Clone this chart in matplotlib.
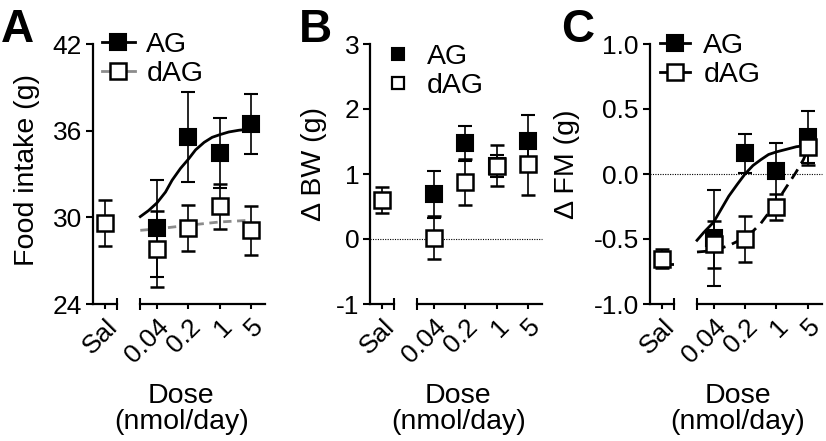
import numpy as np
import matplotlib
matplotlib.use('Agg')
import matplotlib.pyplot as plt
from matplotlib.lines import Line2D
from matplotlib.ticker import FixedLocator, NullFormatter

plt.rcParams['font.family'] = ['Liberation Sans', 'DejaVu Sans']
plt.rcParams['axes.unicode_minus'] = False

W, H = 826, 441

# doses (nmol/day)
doses = [0.04, 0.2, 1, 5]
dose_labels = ['0.04', '0.2', '1', '5']

# A - food intake (g)
fi_ag = [29.25, 35.55, 34.45, 36.45]
fi_ag_err = [3.35, 3.1, 2.4, 2.1]
fi_dag = [27.8, 29.25, 30.75, 29.1]
fi_dag_err = [2.65, 1.6, 1.55, 1.7]
fi_sal = 29.6
fi_sal_err = 1.6
fi_sal_fit = 29.1
# fitted curves
fi_fit_ag_x = [0.017, 0.026, 0.04, 0.062, 0.087, 0.134, 0.2, 0.29, 0.45, 0.68, 1.0, 1.6, 2.7, 5.0]
fi_fit_ag_y = [30.05, 30.47, 31.0, 31.75, 32.57, 33.39, 34.02, 34.67, 35.19, 35.54, 35.72, 35.91, 36.03, 36.12]
fi_fit_dag_x = [0.017, 0.04, 0.2, 1.0, 5.0]
fi_fit_dag_y = [29.1, 29.2, 29.45, 29.68, 29.8]

# B - delta body weight (g)
bw_ag = [0.69, 1.47, 1.13, 1.51]
bw_ag_err = [0.36, 0.27, 0.17, 0.4]
bw_dag = [0.02, 0.88, 1.13, 1.15]
bw_dag_err = [0.33, 0.35, 0.32, 0.48]
bw_sal = 0.6
bw_sal_err = 0.2

# C - delta fat mass (g)
fm_ag = [-0.49, 0.16, 0.02, 0.285]
fm_ag_err = [0.37, 0.15, 0.22, 0.2]
fm_dag = [-0.54, -0.5, -0.25, 0.21]
fm_dag_err = [0.18, 0.175, 0.1, 0.14]
fm_sal = -0.65
fm_sal_err = 0.07
fm_sal_fit = -0.69
fm_fit_ag_x = [0.017, 0.024, 0.04, 0.059, 0.087, 0.134, 0.2, 0.3, 0.45, 0.67, 1.0, 1.68, 2.8, 5.0]
fm_fit_ag_y = [-0.51, -0.45, -0.37, -0.27, -0.17, -0.08, 0.0, 0.065, 0.11, 0.15, 0.17, 0.19, 0.21, 0.22]
fm_fit_dag_x = [0.017, 0.04, 0.087, 0.2, 0.3, 0.45, 0.67, 1.0, 1.6, 2.7, 4.0, 5.0]
fm_fit_dag_y = [-0.60, -0.59, -0.55, -0.49, -0.44, -0.38, -0.30, -0.22, -0.11, 0.01, 0.11, 0.19]

GREY = '#8c8c8c'
FS_TICK = 19
FS_LAB = 20.5
MS = 11

fig = plt.figure(figsize=(W / 100, H / 100), dpi=100)


def px(x0, x1, y0=44, y1=304):
    # pixel box -> figure fraction
    return [x0 / W, 1 - y1 / H, (x1 - x0) / W, (y1 - y0) / H]


def panel(xl, ylim, yticks, yticklabels, ag, ag_err, dag, dag_err, sal, sal_err):
    ax_s = fig.add_axes(px(xl, xl + 24))
    ax_d = fig.add_axes(px(xl + 47, xl + 172))
    for a in (ax_s, ax_d):
        a.set_ylim(ylim)
        a.patch.set_alpha(0)
        for s in ['top', 'right']:
            a.spines[s].set_visible(False)
        for s in ['left', 'bottom']:
            a.spines[s].set_linewidth(1.6)
        a.tick_params(width=1.5, length=3.5, labelsize=FS_TICK, pad=4)
    ax_d.spines['left'].set_visible(False)
    ax_d.tick_params(axis='y', left=False, labelleft=False)
    ax_s.set_yticks(yticks)
    ax_s.set_yticklabels(yticklabels)
    ax_s.tick_params(axis='y', length=5, pad=3)

    ax_s.set_xlim(-1, 1)
    ax_s.set_xticks([0])
    ax_s.set_xticklabels(['Sal'], rotation=45, ha='right', rotation_mode='anchor')
    ax_s.xaxis.set_minor_locator(FixedLocator([1]))
    ax_s.tick_params(axis='x', which='minor', direction='inout', length=8, width=1.5)

    ax_d.set_xscale('log')
    ax_d.set_xlim(0.017, 10.4)
    ax_d.xaxis.set_major_locator(FixedLocator(doses))
    ax_d.set_xticklabels(dose_labels, rotation=45, ha='right', rotation_mode='anchor')
    ax_d.xaxis.set_minor_locator(FixedLocator([0.017]))
    ax_d.xaxis.set_minor_formatter(NullFormatter())
    ax_d.tick_params(axis='x', which='minor', direction='inout', length=8, width=1.5)

    ax_d.errorbar(doses, ag, yerr=ag_err, fmt='s', ms=MS, mfc='k', mec='k', mew=1.5,
                  ecolor='k', elinewidth=1.2, capsize=5, capthick=1.2, zorder=4, clip_on=False)
    ax_d.errorbar(doses, dag, yerr=dag_err, fmt='s', ms=MS, mfc='white', mec='k', mew=1.8,
                  ecolor='k', elinewidth=1.2, capsize=5, capthick=1.2, zorder=5, clip_on=False)
    ax_s.errorbar([0], [sal], yerr=[sal_err], fmt='s', ms=MS, mfc='white', mec='k', mew=1.8,
                  ecolor='k', elinewidth=1.2, capsize=5, capthick=1.2, zorder=5, clip_on=False)

    x_mid = xl + 88
    fig.text(x_mid / W, 1 - 409 / H, 'Dose\n(nmol/day)', ha='center', va='center',
             fontsize=FS_LAB, linespacing=1.0)
    return ax_s, ax_d


def zero_line(ax_s):
    ax_s.axhline(0, xmin=0, xmax=172 / 24, color='k', ls=(0, (1, 1.2)), lw=0.8,
                 clip_on=False, zorder=1)


def legend(ax, handles, x, y, hl, tp):
    ax.legend(handles, ['AG', 'dAG'], loc='upper left', bbox_to_anchor=(x / W, 1 - y / H),
              bbox_transform=fig.transFigure, frameon=False, fontsize=FS_LAB, borderpad=0,
              borderaxespad=0, handlelength=hl, handletextpad=tp, labelspacing=0.1)


# ---- A
sA, dA = panel(93.3, (24, 42), [24, 30, 36, 42], ['24', '30', '36', '42'],
               fi_ag, fi_ag_err, fi_dag, fi_dag_err, fi_sal, fi_sal_err)
dA.plot(fi_fit_ag_x, fi_fit_ag_y, color='k', lw=2, zorder=3, clip_on=False)
dA.plot(fi_fit_dag_x, fi_fit_dag_y, color=GREY, lw=2, ls=(0, (3, 2)), zorder=3, clip_on=False)
sA.axhline(fi_sal_fit, xmin=0.4, xmax=1, color=GREY, lw=2, ls=(0, (3, 2)), zorder=2)
hA = [Line2D([], [], color='k', lw=2, marker='s', ms=MS, mfc='k', mec='k', mew=1.5),
      Line2D([], [], color=GREY, lw=2, marker='s', ms=MS, mfc='white', mec='k', mew=1.8)]
legend(sA, hA, 101.7, 32, 1.17, 0.4)
fig.text(27 / W, 1 - 170 / H, 'Food intake (g)', rotation=90, ha='center', va='center', fontsize=FS_LAB)
fig.text(1 / W, 1 - 8 / H, 'A', ha='left', va='top', fontsize=33, fontweight='bold')

# ---- B
sB, dB = panel(370.3, (-1, 3), [-1, 0, 1, 2, 3], ['-1', '0', '1', '2', '3'],
               bw_ag, bw_ag_err, bw_dag, bw_dag_err, bw_sal, bw_sal_err)
zero_line(sB)
hB = [Line2D([], [], ls='none', marker='s', ms=8.5, mfc='k', mec='k', mew=1.5),
      Line2D([], [], ls='none', marker='s', ms=8.5, mfc='white', mec='k', mew=1.6)]
legend(sB, hB, 387.2, 44, 0.76, 0.62)
fig.text(314 / W, 1 - 164 / H, '\u0394 BW (g)', rotation=90, ha='center', va='center', fontsize=FS_LAB)
fig.text(299 / W, 1 - 8 / H, 'B', ha='left', va='top', fontsize=33, fontweight='bold')

# ---- C
sC, dC = panel(650, (-1, 1), [-1, -0.5, 0, 0.5, 1], ['-1.0', '-0.5', '0.0', '0.5', '1.0'],
               fm_ag, fm_ag_err, fm_dag, fm_dag_err, fm_sal, fm_sal_err)
zero_line(sC)
dC.plot(fm_fit_ag_x, fm_fit_ag_y, color='k', lw=2, zorder=3, clip_on=False)
dC.plot(fm_fit_dag_x, fm_fit_dag_y, color='k', lw=2, ls=(0, (4, 2.5)), zorder=3, clip_on=False)
sC.axhline(fm_sal_fit, xmin=0.5, xmax=1, color='k', lw=2, zorder=2)
hC = [Line2D([], [], color='k', lw=2, marker='s', ms=MS, mfc='k', mec='k', mew=1.5),
      Line2D([], [], color='k', lw=2, marker='s', ms=MS, mfc='white', mec='k', mew=1.8)]
legend(sC, hC, 660, 33, 1.05, 0.47)
fig.text(567 / W, 1 - 164 / H, '\u0394 FM (g)', rotation=90, ha='center', va='center', fontsize=FS_LAB)
fig.text(561 / W, 1 - 8 / H, 'C', ha='left', va='top', fontsize=33, fontweight='bold')

fig.savefig('out.png', dpi=100)
